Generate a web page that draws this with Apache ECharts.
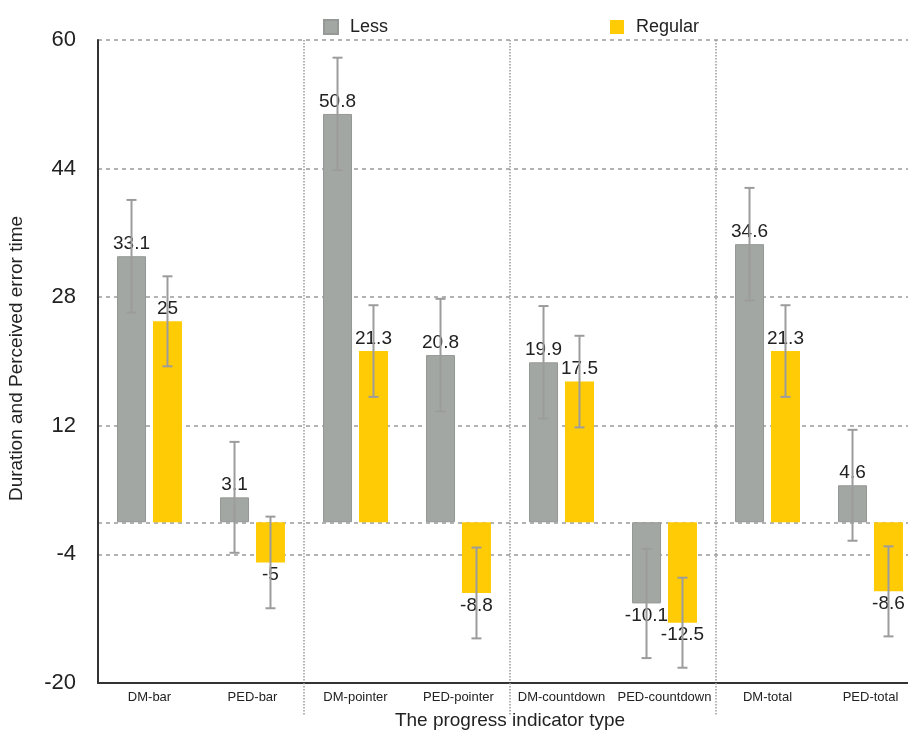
<!DOCTYPE html>
<html>
<head>
<meta charset="utf-8">
<script src="https://cdn.jsdelivr.net/npm/echarts@6/dist/echarts.min.js"></script>
<style>
  html, body { margin: 0; padding: 0; background: #fff; }
  #chart { width: 908px; height: 731px; }
</style>
</head>
<body>
<div id="chart"></div>
<script>
// Mean duration / perceived error time per progress indicator type
const categories = ['DM-bar', 'PED-bar', 'DM-pointer', 'PED-pointer', 'DM-countdown', 'PED-countdown', 'DM-total', 'PED-total'];
const lessValues = [33.1, 3.1, 50.8, 20.8, 19.9, -10.1, 34.6, 4.6];
const regularValues = [25, -5, 21.3, -8.8, 17.5, -12.5, 21.3, -8.6];
// half-length of the error whiskers
const lessErrors = [7.0, 6.9, 7.0, 7.0, 7.0, 6.8, 7.0, 6.9];
const regularErrors = [5.6, 5.7, 5.7, 5.65, 5.7, 5.6, 5.7, 5.6];
const yTicks = [-20, -4, 12, 28, 44, 60];
const yGridLines = [-20, -4, 0, 12, 28, 44, 60];

const FONT = '"Liberation Sans", Arial, Helvetica, sans-serif';
const GREY = '#a3a7a3';
const YELLOW = '#ffcb05';
const WHISKER = '#9c9c9c';
const BAR_WIDTH = 29;
const BAR_GAP = 0.24;
const BAR_OFFSET = BAR_WIDTH * (1 + BAR_GAP) / 2;

// every second category boundary gets a dotted separator
const groupBoundary = (i) => i > 0 && i % 2 === 0;

function barData(values) {
  return values.map(v => ({ value: v, label: { position: v < 0 ? 'bottom' : 'top' } }));
}

function whiskers(name, values, errors, side) {
  return {
    type: 'custom',
    name: name,
    z: 3,
    silent: true,
    encode: { x: 0, y: [1, 2] },
    data: values.map((v, i) => [i, v - errors[i], v + errors[i]]),
    renderItem(params, api) {
      const lo = api.coord([api.value(0), api.value(1)]);
      const hi = api.coord([api.value(0), api.value(2)]);
      const x = lo[0] + side * BAR_OFFSET;
      const cap = 5;
      const style = { stroke: WHISKER, lineWidth: 2 };
      return {
        type: 'group',
        children: [
          { type: 'line', shape: { x1: x, y1: hi[1], x2: x, y2: lo[1] }, style },
          { type: 'line', shape: { x1: x - cap, y1: hi[1], x2: x + cap, y2: hi[1] }, style },
          { type: 'line', shape: { x1: x - cap, y1: lo[1], x2: x + cap, y2: lo[1] }, style }
        ]
      };
    }
  };
}

const chart = echarts.init(document.getElementById('chart'), null, { renderer: 'canvas' });

const valueLabel = {
  show: true,
  formatter: '{c}',
  fontSize: 19,
  fontFamily: FONT,
  color: '#222',
  distance: 3
};

chart.setOption({
  animation: false,
  textStyle: { fontFamily: FONT },
  legend: {
    data: ['Less', 'Regular'],
    top: 13,
    left: 318,
    icon: 'rect',
    itemWidth: 14,
    itemHeight: 14,
    itemGap: 222,
    textStyle: { fontSize: 18, color: '#222', fontFamily: FONT, padding: [0, 0, 0, 7] }
  },
  // the plot runs slightly past the right edge of the canvas
  grid: { left: 98, width: 824, top: 40, bottom: 48, outerBoundsMode: 'none' },
  xAxis: {
    type: 'category',
    data: categories,
    name: 'The progress indicator type',
    nameLocation: 'middle',
    nameGap: 28,
    nameTextStyle: { fontSize: 19, color: '#222', fontFamily: FONT },
    axisLine: { show: true, onZero: false, lineStyle: { color: '#333', width: 2 } },
    axisTick: {
      show: true,
      interval: groupBoundary,
      length: 33,
      lineStyle: { color: '#9a9a9a', width: 1.5, type: 'dotted' }
    },
    axisLabel: { fontSize: 13, color: '#222', margin: 8, fontFamily: FONT, interval: 0 },
    splitLine: {
      show: true,
      interval: groupBoundary,
      lineStyle: { color: '#9a9a9a', width: 1.5, type: 'dotted' }
    }
  },
  yAxis: {
    type: 'value',
    min: -20,
    max: 60,
    name: 'Duration and Perceived error time',
    nameLocation: 'middle',
    nameGap: 72,
    nameRotate: 90,
    nameTextStyle: { fontSize: 19, color: '#222', fontFamily: FONT, padding: [0, 0, 0, 6] },
    axisLine: { show: true, lineStyle: { color: '#333', width: 2 } },
    axisTick: { show: false, customValues: yGridLines },
    axisLabel: { customValues: yTicks, fontSize: 22, color: '#222', margin: 22, fontFamily: FONT },
    splitLine: { show: true, lineStyle: { color: '#9a9a9a', width: 1.5, type: [4, 4] } }
  },
  series: [
    {
      name: 'Less',
      type: 'bar',
      z: 2,
      barWidth: BAR_WIDTH,
      barGap: (BAR_GAP * 100) + '%',
      itemStyle: { color: GREY, borderColor: '#959995', borderWidth: 1 },
      label: valueLabel,
      data: barData(lessValues)
    },
    {
      name: 'Regular',
      type: 'bar',
      z: 2,
      barWidth: BAR_WIDTH,
      barGap: (BAR_GAP * 100) + '%',
      itemStyle: { color: YELLOW },
      label: valueLabel,
      data: barData(regularValues)
    },
    whiskers('Less error', lessValues, lessErrors, -1),
    whiskers('Regular error', regularValues, regularErrors, 1)
  ]
});
</script>
</body>
</html>
